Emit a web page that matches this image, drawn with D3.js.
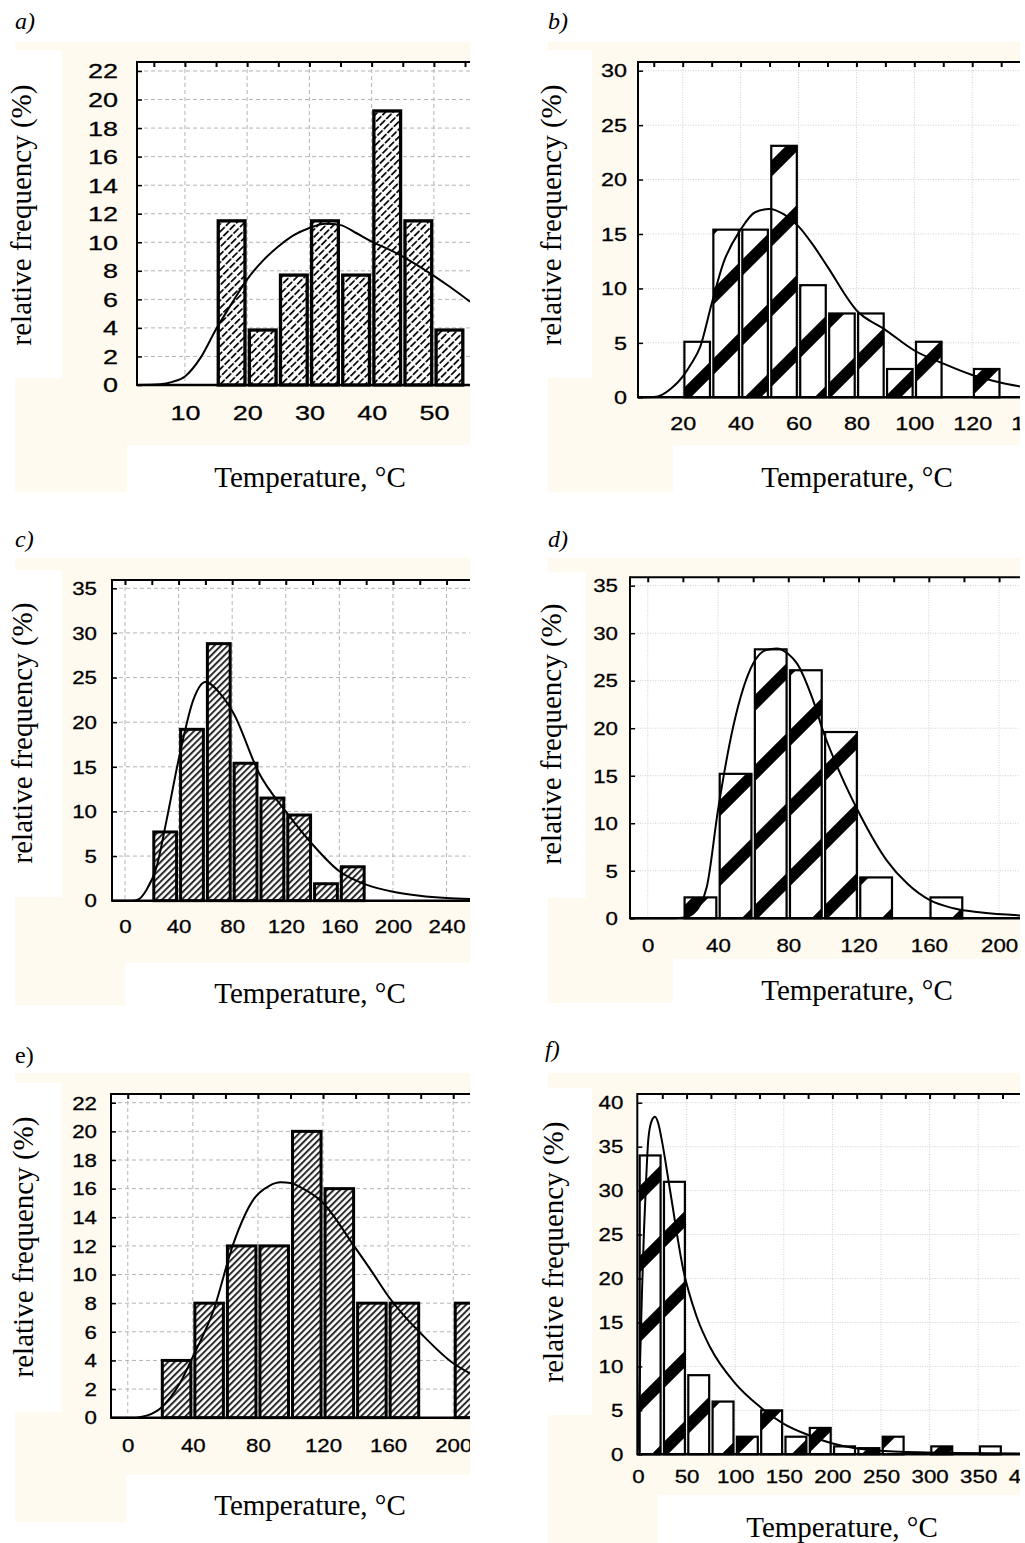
<!DOCTYPE html>
<html><head><meta charset="utf-8">
<script src="https://cdn.jsdelivr.net/npm/d3@7"></script>
<style>body{margin:0;background:#fff} svg{display:block}</style>
</head><body>
<svg id="c" width="1025" height="1543"></svg>
<script>
// ---------------- data ----------------
// a)
const aBins = [15,20,25,30,35,40,45,50];
const aBinWidth = 5;
const aFreq = [11.5,3.85,7.7,11.5,7.7,19.2,11.5,3.85];
const aCurveX = [2.3,6,8,10,12.5,15,17.5,20,22.5,25,27.5,30,32.5,35,37.5,40,42.5,45,47.5,50,52.5,55.8];
const aCurveY = [0,0.05,0.22,0.6,1.9,3.9,5.7,7.4,8.7,9.7,10.5,11.0,11.3,11.2,10.65,10.05,9.55,9.0,8.35,7.65,6.9,5.84];
const aXTicks = [10,20,30,40,50];
const aYTicks = [0,2,4,6,8,10,12,14,16,18,20,22];
// b)
const bBins = [20,30,40,50,60,70,80,90,100,110,120];
const bBinWidth = 10;
const bFreq = [5.1,15.4,15.4,23.1,10.3,7.7,7.7,2.6,5.1,0,2.6];
const bCurveX = [4.6,10,13,16,20,23,26,30,34,40,45,50,55,60,65,70,80,90,100,110,120,130,136.5];
const bCurveY = [0,0.03,0.25,0.8,1.9,3.1,4.6,8.6,12.3,15.4,17.0,17.3,16.8,15.7,14.0,12.0,8.0,6.2,4.3,3.1,2.05,1.34,1.0];
const bXTicks = [20,40,60,80,100,120,140];
const bYTicks = [0,5,10,15,20,25,30];
// c)
const cBins = [20,40,60,80,100,120,140,160];
const cBinWidth = 20;
const cFreq = [7.7,19.2,28.8,15.4,11.5,9.6,1.9,3.8];
const cCurveX = [-9.7,5,10,16,23.6,31,41,51,60,71,81,100,120,140,160,180,200,220,240,257.5];
const cCurveY = [0,0,0.15,1.2,3.8,9.0,16.5,22.5,24.5,23.2,21.0,14.3,10.0,6.3,3.3,1.8,1.0,0.55,0.3,0.2];
const cXTicks = [0,40,80,120,160,200,240];
const cYTicks = [0,5,10,15,20,25,30,35];
// d)
const dBins = [20,40,60,80,100,120,140,160];
const dBinWidth = 20;
const dFreq = [2.2,15.2,28.3,26.1,19.6,4.3,0,2.2];
const dCurveX = [-10,15,20,26,33.6,40,48.7,60,67,73.4,80,85,94,100,109.4,120.4,136,148,160.6,174,190,212];
const dCurveY = [0,0,0.05,0.5,3.3,11.4,20.2,26.8,28.2,28.4,27.8,26.8,23,19.6,15.3,11.05,6.1,3.6,1.9,1.05,0.6,0.3];
const dXTicks = [0,40,80,120,160,200];
const dYTicks = [0,5,10,15,20,25,30,35];
// e)
const eBins = [20,40,60,80,100,120,140,160,180,200];
const eBinWidth = 20;
const eFreq = [4,8,12,12,20,16,8,8,0,8];
const eCurveX = [-10.3,5,8,20,32,40,52.7,65,77,87,94,100,106,120,139,150,160,170,180,200,210.3];
const eCurveY = [0,0,0.05,0.65,2.4,4.26,7.5,12.2,15.2,16.2,16.44,16.4,16.1,15.0,12.0,10.2,8.5,7.1,5.9,3.8,3.1];
const eXTicks = [0,40,80,120,160,200];
const eYTicks = [0,2,4,6,8,10,12,14,16,18,20,22];
// f)
const fBins = [0,25,50,75,100,125,150,175,200,225,250,275,300,325,350,375];
const fBinWidth = 25;
const fFreq = [34,31,9,6,2,5,2,3,0.9,0.7,2,0,0.9,0,0.9,0];
const fCurveX = [-0.7,0.5,2.1,4,6.2,8.5,10.6,14,17.5,21,24.4,32.9,46.6,60.4,74.1,99.8,125.5,149.5,175,199.3,249,300,393];
const fCurveY = [0,2,10.3,18,25.5,31.5,35.8,37.9,38.4,37.6,35.8,30.1,21,15.65,12.2,8.1,5.4,3.5,2.2,1.25,0.4,0.2,0.1];
const fXTicks = [0,50,100,150,200,250,300,350,400];
const fYTicks = [0,5,10,15,20,25,30,35,40];

const yTitle = "relative frequency (%)";
const xTitle = "Temperature, \u00B0C";

// ---------------- drawing ----------------
const CREAM = "#fffaf0";
const TICKFONT = "'Liberation Sans', Arial, sans-serif";
const SERIF = "'Liberation Serif', 'Times New Roman', serif";
const svg = d3.select("#c");
const defs = svg.append("defs");

// diagonal hatch with small breaks (panel a)
const pA = defs.append("pattern").attr("id","hatchA").attr("patternUnits","userSpaceOnUse")
  .attr("width",9).attr("height",5.4).attr("patternTransform","rotate(-45)");
pA.append("rect").attr("width",9).attr("height",5.4).attr("fill","#fff");
pA.append("rect").attr("x",0).attr("y",0).attr("width",7.4).attr("height",1.7).attr("fill","#000");
// grey hatch (panels c, e)
const pC = defs.append("pattern").attr("id","hatchC").attr("patternUnits","userSpaceOnUse")
  .attr("width",10).attr("height",4.6).attr("patternTransform","rotate(-45)");
pC.append("rect").attr("width",10).attr("height",4.6).attr("fill","#fff");
pC.append("rect").attr("width",10).attr("height",2).attr("fill","#2a2a2a");
// wide stripes (panels b, d, f)
function stripes(id, off){
  const p = defs.append("pattern").attr("id",id).attr("patternUnits","userSpaceOnUse")
    .attr("x",off).attr("y",0).attr("width",70).attr("height",70);
  p.append("rect").attr("width",70).attr("height",70).attr("fill","#fff");
  p.append("path").attr("d","M-12,12L12,-12M0,70L70,0M58,82L82,58")
    .attr("stroke","#000").attr("stroke-width",11.5).attr("fill","none");
}
stripes("stripeB",30); stripes("stripeD",58); stripes("stripeF",14);

const panels = [
 {label:"a)", italic:true, lab:[15,29], bins:aBins, bw:aBinWidth, freq:aFreq, cx:aCurveX, cy:aCurveY, xt:aXTicks, yt:aYTicks, topStep:5,
  cream:[15,42,470,445], ext:[15,445,127,492], white:[15,50,62,378],
  plot:[137,62,470,385], xdom:[2.3,55.8], ydom:[0,22.63],
  fill:"url(#hatchA)", sw:3.3, inset:2.2, fs:21, cw:15, yPad:19, xPad:20, grid:"dash",
  yt0:[31,215], xt0:[310,487]},
 {label:"b)", italic:true, lab:[548,29], bins:bBins, bw:bBinWidth, freq:bFreq, cx:bCurveX, cy:bCurveY, xt:bXTicks, yt:bYTicks, topStep:10,
  cream:[548,42,1020,445], ext:[548,445,673,492], white:[548,50,592,378],
  plot:[638,62,1020,397.3], xdom:[4.56,136.5], ydom:[0,30.8],
  fill:"url(#stripeB)", sw:2.2, inset:1.7, fs:19, cw:13, yPad:11, xPad:19.4, grid:"dot",
  yt0:[561,215], xt0:[857,487]},
 {label:"c)", italic:true, lab:[15,547], bins:cBins, bw:cBinWidth, freq:cFreq, cx:cCurveX, cy:cCurveY, xt:cXTicks, yt:cYTicks, topStep:20,
  cream:[15,558,470,963], ext:[15,963,125,1005], white:[15,570,62,897],
  plot:[112,580,470,900.7], xdom:[-9.7,257.5], ydom:[0,35.93],
  fill:"url(#hatchC)", sw:3, inset:2, fs:19, cw:12.4, yPad:15, xPad:19.3, grid:"dash",
  yt0:[32,733], xt0:[310,1003]},
 {label:"d)", italic:true, lab:[548,547], bins:dBins, bw:dBinWidth, freq:dFreq, cx:dCurveX, cy:dCurveY, xt:dXTicks, yt:dYTicks, topStep:20,
  cream:[548,558,1020,959], ext:[548,959,673,1003], white:[548,572,586,898],
  plot:[630,577.3,1020,918.3], xdom:[-10.1,211.9], ydom:[0,35.88],
  fill:"url(#stripeD)", sw:2.2, inset:1.7, fs:19, cw:12.4, yPad:12, xPad:20, grid:"dot",
  yt0:[561,734], xt0:[857,1000]},
 {label:"e)", italic:false, lab:[15,1063], bins:eBins, bw:eBinWidth, freq:eFreq, cx:eCurveX, cy:eCurveY, xt:eXTicks, yt:eYTicks, topStep:20,
  cream:[15,1073,470,1475], ext:[15,1475,126,1522], white:[15,1083,61,1412],
  plot:[111,1094,470,1417.7], xdom:[-10.3,210.3], ydom:[0,22.61],
  fill:"url(#hatchC)", sw:3, inset:2, fs:19, cw:12.4, yPad:14, xPad:20.6, grid:"dash",
  yt0:[33,1247], xt0:[310,1515]},
 {label:"f)", italic:true, lab:[545,1057], bins:fBins, bw:fBinWidth, freq:fFreq, cx:fCurveX, cy:fCurveY, xt:fXTicks, yt:fYTicks, topStep:25,
  cream:[548,1073,1020,1495], ext:[548,1495,658,1543], white:[548,1088,592,1415],
  plot:[637.3,1094,1020,1454.3], xdom:[-0.7,393], ydom:[0,40.99],
  fill:"url(#stripeF)", sw:2.2, inset:1.7, fs:19, cw:12.4, yPad:14, xPad:15.7, grid:"dot",
  yt0:[563,1252], xt0:[842,1537]}
];

panels.forEach((p, i) => {
  const [L,T,R,B] = p.plot;
  const g = svg.append("g");
  // backgrounds
  const rect = (r, c) => g.append("rect").attr("x",r[0]).attr("y",r[1]).attr("width",r[2]-r[0]).attr("height",r[3]-r[1]).attr("fill",c);
  rect(p.cream, CREAM); rect(p.ext, CREAM); rect(p.white, "#fff");
  rect([L,T,R,B], "#fff");

  const x = d3.scaleLinear().domain(p.xdom).range([L,R]);
  const y = d3.scaleLinear().domain(p.ydom).range([B,T]);

  const cid = "clip"+i;
  defs.append("clipPath").attr("id",cid).append("rect").attr("x",L).attr("y",T-2).attr("width",R-L).attr("height",B-T+4);
  const lid = "lclip"+i;
  defs.append("clipPath").attr("id",lid).append("rect").attr("x",p.cream[0]).attr("y",p.cream[1]).attr("width",p.cream[2]-p.cream[0]).attr("height",p.cream[3]-p.cream[1]);

  const inner = g.append("g").attr("clip-path",`url(#${cid})`);
  // grid
  const gs = p.grid === "dash" ? {c:"#b4b4b4", d:"4,3", w:1} : {c:"#d0d0d0", d:"1,1.5", w:1};
  inner.selectAll(".gx").data(p.xt.filter(v => x(v) > L+1 && x(v) < R)).join("line")
    .attr("x1",d=>x(d)).attr("x2",d=>x(d)).attr("y1",T).attr("y2",B)
    .attr("stroke",gs.c).attr("stroke-dasharray",gs.d).attr("stroke-width",gs.w);
  inner.selectAll(".gy").data(p.yt.filter(v => v > 0)).join("line")
    .attr("x1",L).attr("x2",R).attr("y1",d=>y(d)).attr("y2",d=>y(d))
    .attr("stroke",gs.c).attr("stroke-dasharray",gs.d).attr("stroke-width",gs.w);

  // bars
  const bars = p.bins.map((b,k) => ({b, f:p.freq[k]})).filter(d => d.f > 0);
  inner.selectAll(".bar").data(bars).join("rect")
    .attr("x", d => x(d.b) + p.inset)
    .attr("width", d => x(d.b + p.bw) - x(d.b) - 2*p.inset)
    .attr("y", d => y(d.f))
    .attr("height", d => y(0) - y(d.f))
    .attr("fill", p.fill).attr("stroke","#000").attr("stroke-width",p.sw);

  // fitted curve
  const pts = p.cx.map((v,k) => [v, p.cy[k]]);
  inner.append("path").datum(pts)
    .attr("d", d3.line().x(d=>x(d[0])).y(d=>y(d[1])).curve(d3.curveMonotoneX))
    .attr("fill","none").attr("stroke","#000").attr("stroke-width",2);

  // frame
  g.append("line").attr("x1",L).attr("x2",R).attr("y1",T).attr("y2",T).attr("stroke","#000").attr("stroke-width",2);
  g.append("line").attr("x1",L).attr("x2",L).attr("y1",T-1).attr("y2",B+1).attr("stroke","#000").attr("stroke-width",2);
  g.append("line").attr("x1",L).attr("x2",R).attr("y1",B).attr("y2",B).attr("stroke","#000").attr("stroke-width",2.5);

  // top ticks (inward)
  const minor = d3.range(Math.ceil(p.xdom[0]/p.topStep)*p.topStep, p.xdom[1], p.topStep).filter(v => x(v) > L+2);
  const gt = g.append("g").attr("transform",`translate(0,${T})`)
    .call(d3.axisTop(x).tickValues(minor).tickSize(-5).tickFormat(""));
  gt.select(".domain").remove();
  gt.selectAll("line").attr("stroke","#000").attr("stroke-width",2);

  // left axis
  const gy = g.append("g").attr("transform",`translate(${L},0)`)
    .call(d3.axisLeft(y).tickValues(p.yt).tickSize(-5).tickPadding(p.yPad).tickFormat(d3.format("d")));
  gy.select(".domain").remove();
  gy.selectAll("line").attr("stroke","#000").attr("stroke-width",1.5);
  gy.attr("font-family",TICKFONT).attr("font-size",p.fs);
  gy.selectAll("text").attr("fill","#000").attr("stroke","#000").attr("stroke-width",0.3).attr("dy","0.33em")
    .attr("textLength", d => String(d).length*p.cw).attr("lengthAdjust","spacingAndGlyphs");

  // bottom labels
  const gxw = g.append("g").attr("clip-path",`url(#${lid})`);
  const gx = gxw.append("g").attr("transform",`translate(0,${B})`)
    .call(d3.axisBottom(x).tickValues(p.xt).tickSize(0).tickPadding(p.xPad).tickFormat(d3.format("d")));
  gx.select(".domain").remove();
  gx.selectAll("line").remove();
  gx.attr("font-family",TICKFONT).attr("font-size",p.fs);
  gx.selectAll("text").attr("fill","#000").attr("stroke","#000").attr("stroke-width",0.3)
    .attr("textLength", d => String(d).length*p.cw).attr("lengthAdjust","spacingAndGlyphs");

  // titles
  g.append("text").attr("transform",`translate(${p.yt0[0]},${p.yt0[1]}) rotate(-90)`)
    .attr("text-anchor","middle").attr("font-family",SERIF).attr("font-size",29).attr("fill","#000").text(yTitle);
  g.append("text").attr("x",p.xt0[0]).attr("y",p.xt0[1])
    .attr("text-anchor","middle").attr("font-family",SERIF).attr("font-size",29).attr("fill","#000").text(xTitle);
  g.append("text").attr("x",p.lab[0]).attr("y",p.lab[1])
    .attr("font-family",SERIF).attr("font-size",24).attr("font-style",p.italic?"italic":"normal").attr("fill","#000").text(p.label);
});
</script>
</body></html>
